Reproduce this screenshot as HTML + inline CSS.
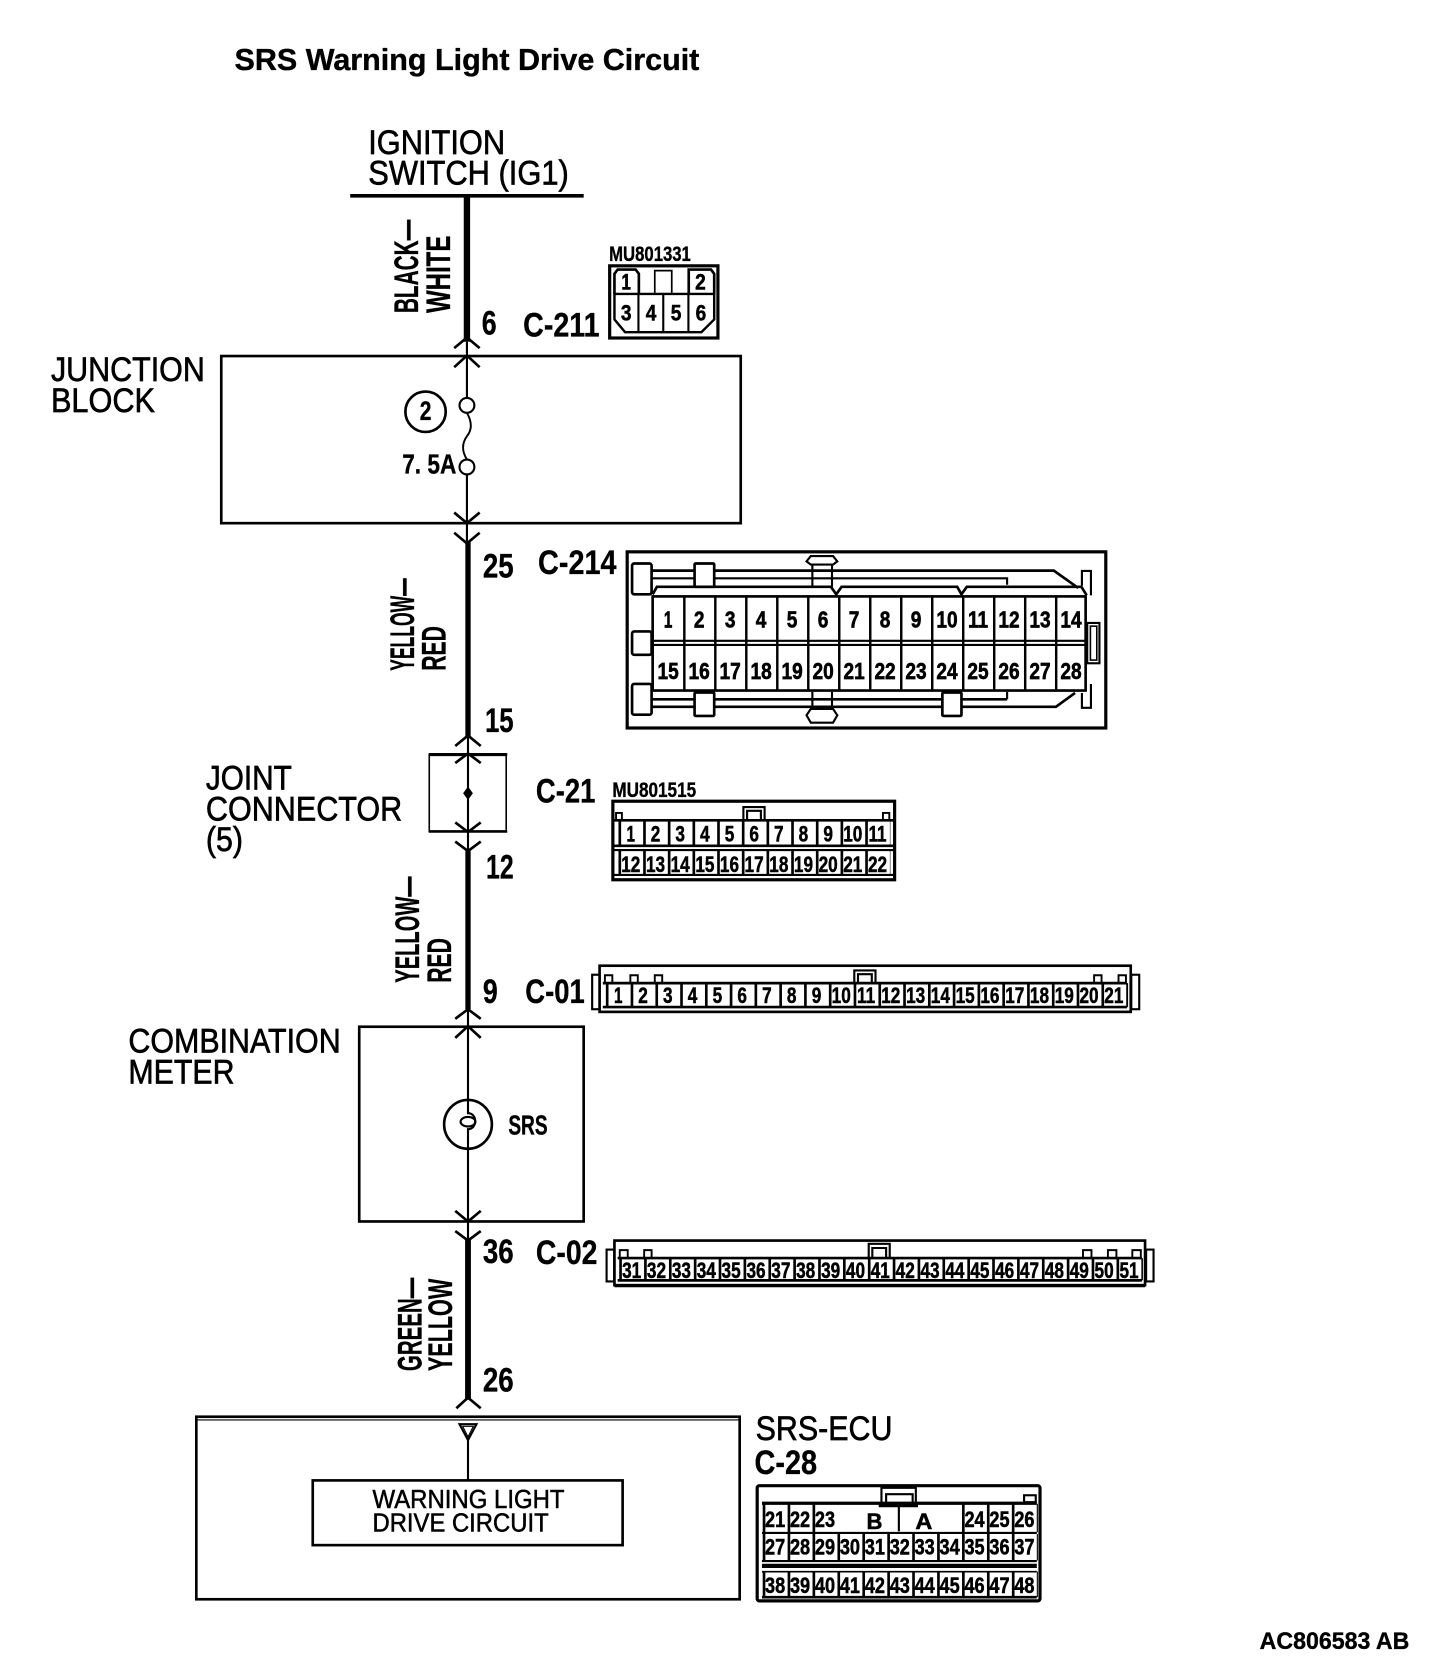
<!DOCTYPE html>
<html lang="en">
<head>
<meta charset="utf-8">
<title>SRS Warning Light Drive Circuit</title>
<style>
html,body{margin:0;padding:0;background:#fff}
svg{display:block}
text{font-family:"Liberation Sans",Arial,sans-serif;fill:#000;stroke:#000;stroke-width:.35px}
.b{font-weight:700}
.l{font-size:32px;stroke-width:.6px}
.c{font-size:32px;font-weight:700;stroke-width:.3px}
.n{font-size:21px;font-weight:700;text-anchor:middle;stroke-width:.5px}
.m{font-size:22px;font-weight:700;text-anchor:middle;stroke-width:.6px}
.s{font-size:24px;stroke-width:.5px}
path,rect,line,ellipse,circle,polygon{fill:none;stroke:#000}
</style>
</head>
<body>
<svg xmlns="http://www.w3.org/2000/svg" width="1456" height="1664" viewBox="0 0 1372 1568">
<rect x="0" y="0" width="1372" height="1568" style="fill:#fff;stroke:none"/>

<!-- Title and labels -->
<text x="221" y="66" class="b" font-size="29" textLength="438" lengthAdjust="spacingAndGlyphs">SRS Warning Light Drive Circuit</text>
<text x="347" y="145" class="l" textLength="129" lengthAdjust="spacingAndGlyphs">IGNITION</text>
<text x="347" y="174" class="l" textLength="189" lengthAdjust="spacingAndGlyphs">SWITCH (IG1)</text>
<text x="48" y="359" class="l" textLength="145" lengthAdjust="spacingAndGlyphs">JUNCTION</text>
<text x="48" y="388" class="l" textLength="98" lengthAdjust="spacingAndGlyphs">BLOCK</text>
<text x="194" y="744" class="l" textLength="81" lengthAdjust="spacingAndGlyphs">JOINT</text>
<text x="194" y="773" class="l" textLength="185" lengthAdjust="spacingAndGlyphs">CONNECTOR</text>
<text x="194" y="802" class="l" textLength="35" lengthAdjust="spacingAndGlyphs">(5)</text>
<text x="121" y="992" class="l" textLength="200" lengthAdjust="spacingAndGlyphs">COMBINATION</text>
<text x="121" y="1021" class="l" textLength="100" lengthAdjust="spacingAndGlyphs">METER</text>
<text x="712" y="1357" class="l" textLength="129" lengthAdjust="spacingAndGlyphs">SRS-ECU</text>
<text x="711" y="1389" class="c" textLength="59" lengthAdjust="spacingAndGlyphs">C-28</text>
<text x="1187" y="1554" class="b" font-size="23" textLength="141" lengthAdjust="spacingAndGlyphs">AC806583 AB</text>

<!-- Vertical wire colour labels -->
<text transform="translate(394,295) rotate(-90)" class="c" textLength="88" lengthAdjust="spacingAndGlyphs">BLACK—</text>
<text transform="translate(424,295) rotate(-90)" class="c" textLength="73" lengthAdjust="spacingAndGlyphs">WHITE</text>
<text transform="translate(390,632) rotate(-90)" class="c" textLength="87" lengthAdjust="spacingAndGlyphs">YELLOW—</text>
<text transform="translate(420,632) rotate(-90)" class="c" textLength="42" lengthAdjust="spacingAndGlyphs">RED</text>
<text transform="translate(395,926) rotate(-90)" class="c" textLength="100" lengthAdjust="spacingAndGlyphs">YELLOW—</text>
<text transform="translate(425,926) rotate(-90)" class="c" textLength="42" lengthAdjust="spacingAndGlyphs">RED</text>
<text transform="translate(397,1292) rotate(-90)" class="c" textLength="88" lengthAdjust="spacingAndGlyphs">GREEN—</text>
<text transform="translate(426,1292) rotate(-90)" class="c" textLength="87" lengthAdjust="spacingAndGlyphs">YELLOW</text>

<!-- Pin and connector labels -->
<text x="454" y="315" class="c" textLength="14" lengthAdjust="spacingAndGlyphs">6</text>
<text x="493" y="317" class="c" textLength="72" lengthAdjust="spacingAndGlyphs">C-211</text>
<text x="455" y="544" class="c" textLength="29" lengthAdjust="spacingAndGlyphs">25</text>
<text x="507" y="541" class="c" textLength="74" lengthAdjust="spacingAndGlyphs">C-214</text>
<text x="457" y="690" class="c" textLength="27" lengthAdjust="spacingAndGlyphs">15</text>
<text x="505" y="756" class="c" textLength="56" lengthAdjust="spacingAndGlyphs">C-21</text>
<text x="458" y="828" class="c" textLength="26" lengthAdjust="spacingAndGlyphs">12</text>
<text x="455" y="945" class="c" textLength="14" lengthAdjust="spacingAndGlyphs">9</text>
<text x="495" y="945" class="c" textLength="56" lengthAdjust="spacingAndGlyphs">C-01</text>
<text x="455" y="1190" class="c" textLength="29" lengthAdjust="spacingAndGlyphs">36</text>
<text x="505" y="1191" class="c" textLength="58" lengthAdjust="spacingAndGlyphs">C-02</text>
<text x="455" y="1311" class="c" textLength="29" lengthAdjust="spacingAndGlyphs">26</text>
<text x="574" y="246" class="b" font-size="20" textLength="77" lengthAdjust="spacingAndGlyphs">MU801331</text>
<text x="577" y="751" class="b" font-size="20" textLength="79" lengthAdjust="spacingAndGlyphs">MU801515</text>
<text x="379" y="446" class="b" font-size="26" textLength="51" lengthAdjust="spacingAndGlyphs">7. 5A</text>
<text x="479" y="1069" class="b" font-size="26" textLength="37" lengthAdjust="spacingAndGlyphs">SRS</text>
<text x="401" y="396" class="b" font-size="25" text-anchor="middle" textLength="11" lengthAdjust="spacingAndGlyphs">2</text>

<!-- Wires -->
<line x1="330" y1="184.5" x2="550" y2="184.5" stroke-width="3.5"/>
<line x1="440" y1="185" x2="440" y2="322" stroke-width="6"/>
<line x1="440" y1="322" x2="440" y2="375" stroke-width="2"/>
<circle cx="440" cy="382" r="7" stroke-width="2"/>
<path d="M440 389C445 398,445 405,440 411C435 418,435 425,440 433" stroke-width="1.8"/>
<circle cx="440" cy="440" r="7" stroke-width="2"/>
<line x1="440" y1="447" x2="440" y2="510" stroke-width="2"/>
<line x1="441" y1="510" x2="441" y2="695" stroke-width="5"/>
<line x1="441" y1="695" x2="441" y2="802" stroke-width="2"/>
<line x1="441" y1="802" x2="441" y2="951" stroke-width="5"/>
<line x1="441" y1="951" x2="441" y2="1036" stroke-width="2"/>
<line x1="441" y1="1082" x2="441" y2="1167" stroke-width="2"/>
<line x1="441" y1="1167" x2="441" y2="1319" stroke-width="5.5"/>
<line x1="441" y1="1356" x2="441" y2="1395" stroke-width="2"/>
<polygon points="433,1342 449,1342 441,1357" stroke-width="2"/>
<polygon points="436,1344 446,1344 441,1354" stroke-width="1"/>
<polygon points="441,742 445,747.5 441,753 437,747.5" style="fill:#000"/>

<!-- Chevrons -->
<g stroke-width="2.5">
<path d="M428 328L440 318L452 328"/>
<path d="M428 346L440 335L452 346"/>
<path d="M428 483L440 493L452 483"/>
<path d="M428 502L440 512L452 502"/>
<path d="M429 703L441 693L453 703"/>
<path d="M429 719L441 710L453 719"/>
<path d="M429 775L441 784L453 775"/>
<path d="M429 793L441 802L453 793"/>
<path d="M429 960L441 951L453 960"/>
<path d="M429 978L441 967L453 978"/>
<path d="M429 1141L441 1151L453 1141"/>
<path d="M429 1160L441 1169L453 1160"/>
<path d="M430 1327L441 1317L453 1327"/>
</g>

<!-- Boxes -->
<rect x="208.500" y="335.500" width="489.500" height="157.500" stroke-width="2.500"/>
<rect x="404.500" y="711" width="72.500" height="72.500" stroke-width="1.500"/>
<line x1="404" y1="711" x2="478" y2="711" stroke-width="3"/>
<line x1="404" y1="783.500" x2="478" y2="783.500" stroke-width="2.500"/>
<rect x="338.500" y="967.500" width="211.500" height="183.500" stroke-width="2.500"/>
<rect x="185" y="1335" width="512" height="172" stroke-width="2.500"/>
<line x1="186" y1="1338" x2="696" y2="1338" stroke-width="1"/>
<rect x="294.700" y="1395" width="292" height="61" stroke-width="2.500"/>
<text x="351" y="1421" class="s" textLength="181" lengthAdjust="spacingAndGlyphs">WARNING LIGHT</text>
<text x="351" y="1443" class="s" textLength="166" lengthAdjust="spacingAndGlyphs">DRIVE CIRCUIT</text>
<circle cx="401" cy="388" r="19" stroke-width="2.500"/>

<!-- Bulb -->
<ellipse cx="441" cy="1059.500" rx="22.500" ry="23" stroke-width="2.500"/>
<path d="M441 1036V1049C450 1049,450 1064,441 1064V1082" stroke-width="2"/>
<ellipse cx="441" cy="1057" rx="7" ry="4.500" stroke-width="2"/>

<!-- C-211 connector -->
<rect x="574.500" y="250.500" width="102" height="68" stroke-width="3"/>
<path d="M579 277V301L589 313H661L673 301V277Z" stroke-width="2.300"/>
<path d="M579 277V258L582 254H599L602 258V277" stroke-width="2.500"/>
<path d="M649 277V254H670L673 258V277" stroke-width="2.500"/>
<path d="M617 276V255H633V276" stroke-width="1.600"/>
<path d="M601.600 277V313M625 277V313M648.700 277V313" stroke-width="2"/>
<text x="590" y="273" class="n" textLength="9" lengthAdjust="spacingAndGlyphs">1</text>
<text x="660" y="273" class="n" textLength="10" lengthAdjust="spacingAndGlyphs">2</text>
<text x="590" y="302" class="n" textLength="10" lengthAdjust="spacingAndGlyphs">3</text>
<text x="613.500" y="302" class="n" textLength="10" lengthAdjust="spacingAndGlyphs">4</text>
<text x="637" y="302" class="n" textLength="10" lengthAdjust="spacingAndGlyphs">5</text>
<text x="660.500" y="302" class="n" textLength="10" lengthAdjust="spacingAndGlyphs">6</text>

<!-- C-214 connector -->
<rect x="591" y="520" width="451" height="166" stroke-width="3"/>
<rect x="595.600" y="531" width="18.400" height="29" rx="2" stroke-width="2.500"/>
<rect x="595.600" y="595" width="18.400" height="22" rx="2" stroke-width="2.500"/>
<rect x="595.600" y="644.500" width="18.400" height="29" rx="2" stroke-width="2.500"/>
<line x1="614" y1="537.700" x2="654.500" y2="537.700" stroke-width="2.500"/>
<path d="M673 537.700H993L1016 554" stroke-width="2.500"/>
<path d="M614 545H654.500M673 545H949V551" stroke-width="2"/>
<path d="M615 560L619 553H783L788 560L793 553H902L906 560L911 553H1019L1024 561" stroke-width="2.500"/>
<rect x="654.500" y="531" width="18.500" height="22" rx="1" stroke-width="2.500" style="fill:#fff"/>
<path d="M765.500 553V532M784 553V532" stroke-width="2"/>
<path d="M760 529L764 524H785L789 529L785 532H764Z" stroke-width="2"/>
<path d="M1019.500 552V538H1028V561" stroke-width="2"/>
<rect x="615" y="562" width="408" height="88.700" stroke-width="2.500"/>
<line x1="615" y1="603.800" x2="1023" y2="603.800" stroke-width="2"/>
<line x1="615" y1="607.700" x2="1023" y2="607.700" stroke-width="2"/>
<line x1="643.700" y1="606.300" x2="1023" y2="606.300" stroke-width="88.700" stroke-dasharray="2.300 26.900"/>
<line x1="614" y1="659" x2="949" y2="659" stroke-width="2.500"/>
<path d="M949 652V659" stroke-width="2"/>
<path d="M614 666H995L1013 653" stroke-width="2.500"/>
<rect x="654.500" y="652.600" width="18.500" height="22" rx="1" stroke-width="2.500" style="fill:#fff"/>
<rect x="888" y="652.600" width="18" height="22" rx="1" stroke-width="2.500" style="fill:#fff"/>
<path d="M765.500 652V667M784 652V667" stroke-width="2"/>
<path d="M760 674L764 668H785L789 674L785 681H764Z" stroke-width="2"/>
<path d="M1019.500 653V667H1028V644.500" stroke-width="2"/>
<rect x="1024.500" y="587" width="11.500" height="38" stroke-width="2"/>
<rect x="1027.500" y="590" width="6" height="32" stroke-width="1.500"/>
<text x="629.600" y="591.500" class="m" textLength="8" lengthAdjust="spacingAndGlyphs">1</text>
<text x="658.800" y="591.500" class="m" textLength="10" lengthAdjust="spacingAndGlyphs">2</text>
<text x="688" y="591.500" class="m" textLength="10" lengthAdjust="spacingAndGlyphs">3</text>
<text x="717.200" y="591.500" class="m" textLength="10" lengthAdjust="spacingAndGlyphs">4</text>
<text x="746.400" y="591.500" class="m" textLength="10" lengthAdjust="spacingAndGlyphs">5</text>
<text x="775.600" y="591.500" class="m" textLength="10" lengthAdjust="spacingAndGlyphs">6</text>
<text x="804.800" y="591.500" class="m" textLength="10" lengthAdjust="spacingAndGlyphs">7</text>
<text x="834" y="591.500" class="m" textLength="10" lengthAdjust="spacingAndGlyphs">8</text>
<text x="863.200" y="591.500" class="m" textLength="10" lengthAdjust="spacingAndGlyphs">9</text>
<text x="892.400" y="591.500" class="m" textLength="20" lengthAdjust="spacingAndGlyphs">10</text>
<text x="921.600" y="591.500" class="m" textLength="19" lengthAdjust="spacingAndGlyphs">11</text>
<text x="950.800" y="591.500" class="m" textLength="20" lengthAdjust="spacingAndGlyphs">12</text>
<text x="980" y="591.500" class="m" textLength="20" lengthAdjust="spacingAndGlyphs">13</text>
<text x="1009.200" y="591.500" class="m" textLength="20" lengthAdjust="spacingAndGlyphs">14</text>
<text x="629.600" y="640" class="m" textLength="20" lengthAdjust="spacingAndGlyphs">15</text>
<text x="658.800" y="640" class="m" textLength="20" lengthAdjust="spacingAndGlyphs">16</text>
<text x="688" y="640" class="m" textLength="20" lengthAdjust="spacingAndGlyphs">17</text>
<text x="717.200" y="640" class="m" textLength="20" lengthAdjust="spacingAndGlyphs">18</text>
<text x="746.400" y="640" class="m" textLength="20" lengthAdjust="spacingAndGlyphs">19</text>
<text x="775.600" y="640" class="m" textLength="20" lengthAdjust="spacingAndGlyphs">20</text>
<text x="804.800" y="640" class="m" textLength="20" lengthAdjust="spacingAndGlyphs">21</text>
<text x="834" y="640" class="m" textLength="20" lengthAdjust="spacingAndGlyphs">22</text>
<text x="863.200" y="640" class="m" textLength="20" lengthAdjust="spacingAndGlyphs">23</text>
<text x="892.400" y="640" class="m" textLength="20" lengthAdjust="spacingAndGlyphs">24</text>
<text x="921.600" y="640" class="m" textLength="20" lengthAdjust="spacingAndGlyphs">25</text>
<text x="950.800" y="640" class="m" textLength="20" lengthAdjust="spacingAndGlyphs">26</text>
<text x="980" y="640" class="m" textLength="20" lengthAdjust="spacingAndGlyphs">27</text>
<text x="1009.200" y="640" class="m" textLength="20" lengthAdjust="spacingAndGlyphs">28</text>

<!-- C-21 connector -->
<rect x="577.500" y="755" width="265.500" height="74" stroke-width="3"/>
<path d="M700.500 773V760.500H720.500V773M704 773V764H717V773" stroke-width="2"/>
<path d="M580.500 773V766H586V773M832 773V766H838V773" stroke-width="1.800"/>
<line x1="578" y1="773" x2="842" y2="773" stroke-width="2.500"/>
<line x1="578" y1="797" x2="842" y2="797" stroke-width="2.500"/>
<line x1="578" y1="801" x2="842" y2="801" stroke-width="2"/>
<line x1="578" y1="824.500" x2="842" y2="824.500" stroke-width="2"/>
<line x1="582.800" y1="785" x2="839" y2="785" stroke-width="24" stroke-dasharray="2.500 20.750"/>
<line x1="582.800" y1="813" x2="839" y2="813" stroke-width="23" stroke-dasharray="2.500 20.750"/>
<text x="594.400" y="793" class="n" textLength="8" lengthAdjust="spacingAndGlyphs">1</text>
<text x="617.700" y="793" class="n" textLength="9" lengthAdjust="spacingAndGlyphs">2</text>
<text x="640.900" y="793" class="n" textLength="9" lengthAdjust="spacingAndGlyphs">3</text>
<text x="664.200" y="793" class="n" textLength="9" lengthAdjust="spacingAndGlyphs">4</text>
<text x="687.400" y="793" class="n" textLength="9" lengthAdjust="spacingAndGlyphs">5</text>
<text x="710.600" y="793" class="n" textLength="9" lengthAdjust="spacingAndGlyphs">6</text>
<text x="733.900" y="793" class="n" textLength="9" lengthAdjust="spacingAndGlyphs">7</text>
<text x="757.100" y="793" class="n" textLength="9" lengthAdjust="spacingAndGlyphs">8</text>
<text x="780.400" y="793" class="n" textLength="9" lengthAdjust="spacingAndGlyphs">9</text>
<text x="803.600" y="793" class="n" textLength="18" lengthAdjust="spacingAndGlyphs">10</text>
<text x="826.900" y="793" class="n" textLength="17" lengthAdjust="spacingAndGlyphs">11</text>
<text x="594.400" y="821.500" class="n" textLength="18" lengthAdjust="spacingAndGlyphs">12</text>
<text x="617.700" y="821.500" class="n" textLength="18" lengthAdjust="spacingAndGlyphs">13</text>
<text x="640.900" y="821.500" class="n" textLength="18" lengthAdjust="spacingAndGlyphs">14</text>
<text x="664.200" y="821.500" class="n" textLength="18" lengthAdjust="spacingAndGlyphs">15</text>
<text x="687.400" y="821.500" class="n" textLength="18" lengthAdjust="spacingAndGlyphs">16</text>
<text x="710.600" y="821.500" class="n" textLength="18" lengthAdjust="spacingAndGlyphs">17</text>
<text x="733.900" y="821.500" class="n" textLength="18" lengthAdjust="spacingAndGlyphs">18</text>
<text x="757.100" y="821.500" class="n" textLength="18" lengthAdjust="spacingAndGlyphs">19</text>
<text x="780.400" y="821.500" class="n" textLength="18" lengthAdjust="spacingAndGlyphs">20</text>
<text x="803.600" y="821.500" class="n" textLength="18" lengthAdjust="spacingAndGlyphs">21</text>
<text x="826.900" y="821.500" class="n" textLength="18" lengthAdjust="spacingAndGlyphs">22</text>

<!-- C-01 connector -->
<rect x="565" y="910" width="500.500" height="43.500" stroke-width="2.500"/>
<rect x="558" y="918.500" width="7" height="32.500" stroke-width="2"/>
<rect x="1066" y="918.500" width="7.500" height="32.500" stroke-width="2"/>
<path d="M805 926V914.500H825V926M808.500 926V918H821.500V926" stroke-width="2"/>
<path d="M570 926V919H577V926M594 926V919H601V926M617 926V919H624V926M1031 926V919H1038V926M1054 926V919H1061V926" stroke-width="1.800"/>
<line x1="568" y1="926.400" x2="1062" y2="926.400" stroke-width="2.500"/>
<line x1="568" y1="949" x2="1062" y2="949" stroke-width="2.500"/>
<line x1="570.900" y1="937.700" x2="1063" y2="937.700" stroke-width="22.600" stroke-dasharray="2.500 20.850"/>
<text x="582.600" y="945" class="n" textLength="8" lengthAdjust="spacingAndGlyphs">1</text>
<text x="605.900" y="945" class="n" textLength="9" lengthAdjust="spacingAndGlyphs">2</text>
<text x="629.300" y="945" class="n" textLength="9" lengthAdjust="spacingAndGlyphs">3</text>
<text x="652.600" y="945" class="n" textLength="9" lengthAdjust="spacingAndGlyphs">4</text>
<text x="676" y="945" class="n" textLength="9" lengthAdjust="spacingAndGlyphs">5</text>
<text x="699.300" y="945" class="n" textLength="9" lengthAdjust="spacingAndGlyphs">6</text>
<text x="722.700" y="945" class="n" textLength="9" lengthAdjust="spacingAndGlyphs">7</text>
<text x="746" y="945" class="n" textLength="9" lengthAdjust="spacingAndGlyphs">8</text>
<text x="769.400" y="945" class="n" textLength="9" lengthAdjust="spacingAndGlyphs">9</text>
<text x="792.700" y="945" class="n" textLength="18" lengthAdjust="spacingAndGlyphs">10</text>
<text x="816.100" y="945" class="n" textLength="17" lengthAdjust="spacingAndGlyphs">11</text>
<text x="839.400" y="945" class="n" textLength="18" lengthAdjust="spacingAndGlyphs">12</text>
<text x="862.800" y="945" class="n" textLength="18" lengthAdjust="spacingAndGlyphs">13</text>
<text x="886.100" y="945" class="n" textLength="18" lengthAdjust="spacingAndGlyphs">14</text>
<text x="909.500" y="945" class="n" textLength="18" lengthAdjust="spacingAndGlyphs">15</text>
<text x="932.800" y="945" class="n" textLength="18" lengthAdjust="spacingAndGlyphs">16</text>
<text x="956.200" y="945" class="n" textLength="18" lengthAdjust="spacingAndGlyphs">17</text>
<text x="979.500" y="945" class="n" textLength="18" lengthAdjust="spacingAndGlyphs">18</text>
<text x="1002.900" y="945" class="n" textLength="18" lengthAdjust="spacingAndGlyphs">19</text>
<text x="1026.200" y="945" class="n" textLength="18" lengthAdjust="spacingAndGlyphs">20</text>
<text x="1049.600" y="945" class="n" textLength="18" lengthAdjust="spacingAndGlyphs">21</text>

<!-- C-02 connector -->
<rect x="579" y="1169" width="500" height="42" stroke-width="2.500"/>
<line x1="579" y1="1212" x2="1079" y2="1212" stroke-width="2"/>
<rect x="571.600" y="1177.500" width="7.200" height="30" stroke-width="2"/>
<rect x="1080" y="1177.500" width="7" height="30" stroke-width="2"/>
<path d="M818.600 1185V1172H838.400V1185M822 1185V1176H835V1185" stroke-width="2"/>
<path d="M584 1185V1178H591.500V1185M607 1185V1178H614V1185M1020.500 1185V1178H1028.500V1185M1044 1185V1178H1052V1185M1067 1185V1178H1075V1185" stroke-width="1.800"/>
<line x1="582" y1="1185.500" x2="1076" y2="1185.500" stroke-width="2.500"/>
<line x1="582" y1="1206.500" x2="1076" y2="1206.500" stroke-width="2.500"/>
<line x1="583.500" y1="1196" x2="1077" y2="1196" stroke-width="21" stroke-dasharray="2.500 20.930"/>
<text x="595.200" y="1204.500" class="n" textLength="18" lengthAdjust="spacingAndGlyphs">31</text>
<text x="618.600" y="1204.500" class="n" textLength="18" lengthAdjust="spacingAndGlyphs">32</text>
<text x="642.100" y="1204.500" class="n" textLength="18" lengthAdjust="spacingAndGlyphs">33</text>
<text x="665.500" y="1204.500" class="n" textLength="18" lengthAdjust="spacingAndGlyphs">34</text>
<text x="688.900" y="1204.500" class="n" textLength="18" lengthAdjust="spacingAndGlyphs">35</text>
<text x="712.400" y="1204.500" class="n" textLength="18" lengthAdjust="spacingAndGlyphs">36</text>
<text x="735.800" y="1204.500" class="n" textLength="18" lengthAdjust="spacingAndGlyphs">37</text>
<text x="759.200" y="1204.500" class="n" textLength="18" lengthAdjust="spacingAndGlyphs">38</text>
<text x="782.700" y="1204.500" class="n" textLength="18" lengthAdjust="spacingAndGlyphs">39</text>
<text x="806.100" y="1204.500" class="n" textLength="18" lengthAdjust="spacingAndGlyphs">40</text>
<text x="829.500" y="1204.500" class="n" textLength="18" lengthAdjust="spacingAndGlyphs">41</text>
<text x="853" y="1204.500" class="n" textLength="18" lengthAdjust="spacingAndGlyphs">42</text>
<text x="876.400" y="1204.500" class="n" textLength="18" lengthAdjust="spacingAndGlyphs">43</text>
<text x="899.800" y="1204.500" class="n" textLength="18" lengthAdjust="spacingAndGlyphs">44</text>
<text x="923.300" y="1204.500" class="n" textLength="18" lengthAdjust="spacingAndGlyphs">45</text>
<text x="946.700" y="1204.500" class="n" textLength="18" lengthAdjust="spacingAndGlyphs">46</text>
<text x="970.100" y="1204.500" class="n" textLength="18" lengthAdjust="spacingAndGlyphs">47</text>
<text x="993.600" y="1204.500" class="n" textLength="18" lengthAdjust="spacingAndGlyphs">48</text>
<text x="1017" y="1204.500" class="n" textLength="18" lengthAdjust="spacingAndGlyphs">49</text>
<text x="1040.400" y="1204.500" class="n" textLength="18" lengthAdjust="spacingAndGlyphs">50</text>
<text x="1063.900" y="1204.500" class="n" textLength="18" lengthAdjust="spacingAndGlyphs">51</text>

<!-- C-28 connector -->
<rect x="713.500" y="1400" width="266.500" height="108.500" rx="2" stroke-width="3"/>
<path d="M830.600 1416V1402H863V1416M835 1416V1408H860V1416" stroke-width="2"/>
<rect x="965" y="1409" width="11" height="6.500" stroke-width="2"/>
<line x1="718" y1="1416.500" x2="977" y2="1416.500" stroke-width="3"/>
<line x1="718" y1="1444.500" x2="977" y2="1444.500" stroke-width="2"/>
<line x1="718" y1="1471" x2="977" y2="1471" stroke-width="2"/>
<line x1="718" y1="1475.500" x2="977" y2="1475.500" stroke-width="4"/>
<line x1="718" y1="1481" x2="977" y2="1481" stroke-width="1.500"/>
<line x1="718" y1="1505" x2="977" y2="1505" stroke-width="2.500"/>
<line x1="718.700" y1="1430.500" x2="789" y2="1430.500" stroke-width="27" stroke-dasharray="2.500 20.980"/>
<line x1="906.500" y1="1430.500" x2="978" y2="1430.500" stroke-width="27" stroke-dasharray="2.500 20.980"/>
<line x1="718.700" y1="1458" x2="978" y2="1458" stroke-width="25" stroke-dasharray="2.500 20.980"/>
<line x1="718.700" y1="1493" x2="978" y2="1493" stroke-width="24" stroke-dasharray="2.500 20.980"/>
<line x1="847" y1="1418" x2="847" y2="1443" stroke-width="2"/>
<path d="M828 1419H865" stroke-width="2.500"/>
<text x="730.400" y="1439" class="n" textLength="19" lengthAdjust="spacingAndGlyphs">21</text>
<text x="753.900" y="1439" class="n" textLength="19" lengthAdjust="spacingAndGlyphs">22</text>
<text x="777.400" y="1439" class="n" textLength="19" lengthAdjust="spacingAndGlyphs">23</text>
<text x="824" y="1441" class="n" textLength="15" lengthAdjust="spacingAndGlyphs">B</text>
<text x="870.600" y="1441" class="n" textLength="16" lengthAdjust="spacingAndGlyphs">A</text>
<text x="918.300" y="1439" class="n" textLength="19" lengthAdjust="spacingAndGlyphs">24</text>
<text x="941.800" y="1439" class="n" textLength="19" lengthAdjust="spacingAndGlyphs">25</text>
<text x="965.300" y="1439" class="n" textLength="19" lengthAdjust="spacingAndGlyphs">26</text>
<text x="730.400" y="1465" class="n" textLength="19" lengthAdjust="spacingAndGlyphs">27</text>
<text x="753.900" y="1465" class="n" textLength="19" lengthAdjust="spacingAndGlyphs">28</text>
<text x="777.400" y="1465" class="n" textLength="19" lengthAdjust="spacingAndGlyphs">29</text>
<text x="800.900" y="1465" class="n" textLength="19" lengthAdjust="spacingAndGlyphs">30</text>
<text x="824.400" y="1465" class="n" textLength="19" lengthAdjust="spacingAndGlyphs">31</text>
<text x="847.900" y="1465" class="n" textLength="19" lengthAdjust="spacingAndGlyphs">32</text>
<text x="871.300" y="1465" class="n" textLength="19" lengthAdjust="spacingAndGlyphs">33</text>
<text x="894.800" y="1465" class="n" textLength="19" lengthAdjust="spacingAndGlyphs">34</text>
<text x="918.300" y="1465" class="n" textLength="19" lengthAdjust="spacingAndGlyphs">35</text>
<text x="941.800" y="1465" class="n" textLength="19" lengthAdjust="spacingAndGlyphs">36</text>
<text x="965.300" y="1465" class="n" textLength="19" lengthAdjust="spacingAndGlyphs">37</text>
<text x="730.400" y="1501" class="n" textLength="19" lengthAdjust="spacingAndGlyphs">38</text>
<text x="753.900" y="1501" class="n" textLength="19" lengthAdjust="spacingAndGlyphs">39</text>
<text x="777.400" y="1501" class="n" textLength="19" lengthAdjust="spacingAndGlyphs">40</text>
<text x="800.900" y="1501" class="n" textLength="19" lengthAdjust="spacingAndGlyphs">41</text>
<text x="824.400" y="1501" class="n" textLength="19" lengthAdjust="spacingAndGlyphs">42</text>
<text x="847.900" y="1501" class="n" textLength="19" lengthAdjust="spacingAndGlyphs">43</text>
<text x="871.300" y="1501" class="n" textLength="19" lengthAdjust="spacingAndGlyphs">44</text>
<text x="894.800" y="1501" class="n" textLength="19" lengthAdjust="spacingAndGlyphs">45</text>
<text x="918.300" y="1501" class="n" textLength="19" lengthAdjust="spacingAndGlyphs">46</text>
<text x="941.800" y="1501" class="n" textLength="19" lengthAdjust="spacingAndGlyphs">47</text>
<text x="965.300" y="1501" class="n" textLength="19" lengthAdjust="spacingAndGlyphs">48</text>
</svg>
</body>
</html>
